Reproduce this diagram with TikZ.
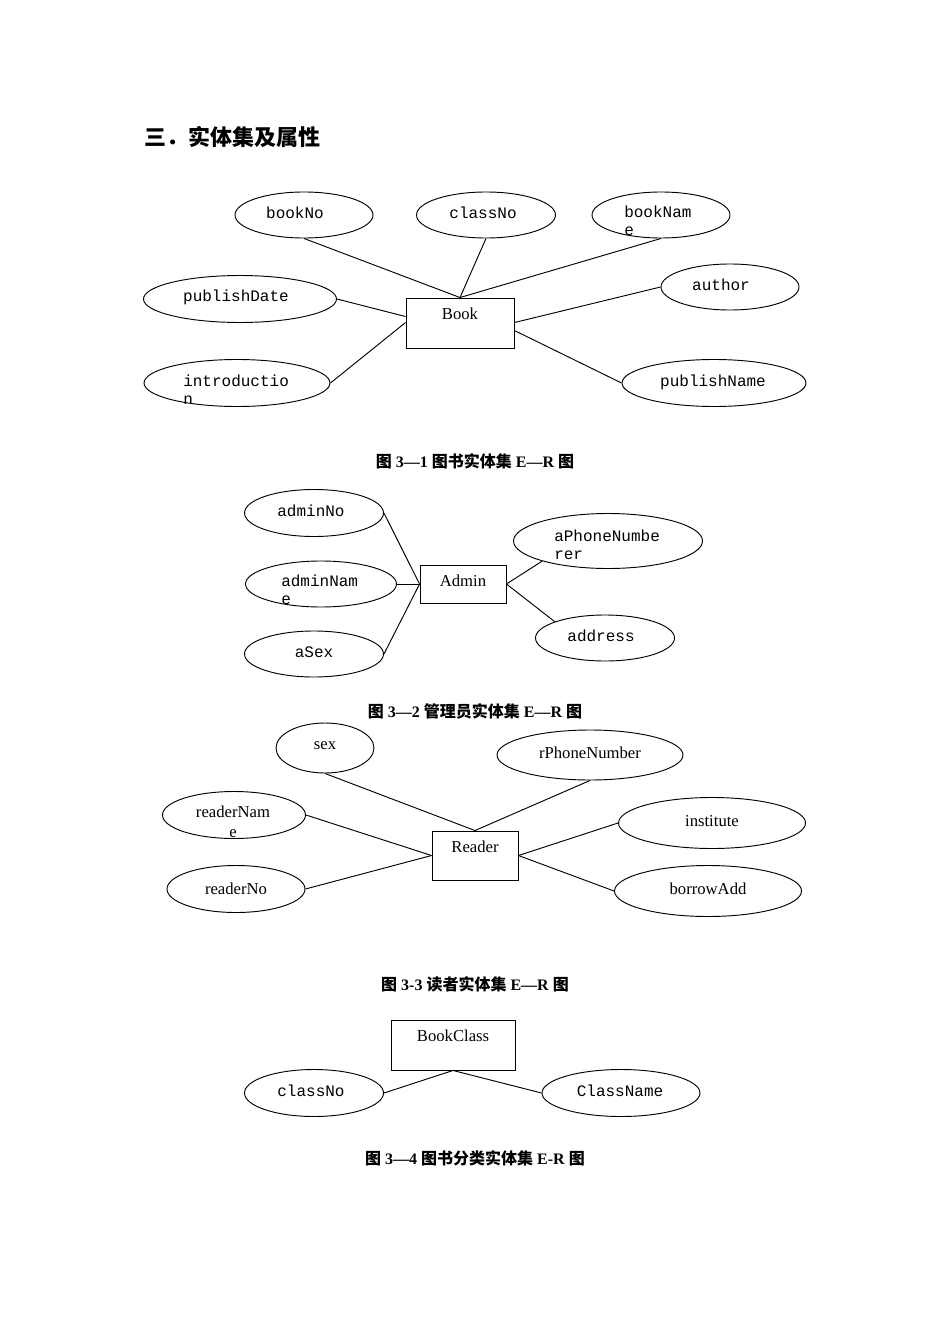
\documentclass[tikz,border=0pt]{standalone}
\usepackage{fontspec}
\setmainfont{Liberation Serif}
\setmonofont{Liberation Mono}
\newfontfamily\cjk{Noto Sans CJK SC}
\newcommand\zh[1]{{\cjk #1}}
\usetikzlibrary{shapes.geometric,calc}
\tikzset{
  attr/.style 2 args={draw, ellipse, inner sep=0pt, line width=0.7pt, minimum width=#1*0.75pt, minimum height=#2*0.75pt},
  ent/.style 2 args={draw, rectangle, inner sep=0pt, line width=0.7pt, minimum width=#1*0.75pt, minimum height=#2*0.75pt},
  mono/.style={font=\ttfamily\fontsize{12}{13.5}\selectfont, inner sep=0pt, align=left},
  ser/.style={font=\fontsize{12.5}{15}\selectfont, inner sep=0pt, align=center},
  capt/.style={font=\bfseries\fontsize{12}{14}\selectfont, inner sep=0pt},
  conn/.style={line width=0.7pt},
}
\begin{document}
\begin{tikzpicture}[x=0.75pt,y=-0.75pt]
\path[use as bounding box] (0,0) rectangle (950,1344);

% title
\node[anchor=west, inner sep=0pt, font=\cjk\bfseries\fontsize{16.5}{20}\selectfont] (title) at (144,137) {三．实体集及属性};

% ---------- Book ----------
\node[ent={108}{50}] (book) at (460,323) {};
\node[ser] (bookT) at (460,314) {Book};
\node[attr={138}{46}] (bookNo) at (304,215) {};
\node[mono] (bookNoT) at (295,213) {bookNo};
\node[attr={139}{46}] (classNo) at (486,215) {};
\node[mono] (classNoT) at (483,213) {classNo};
\node[attr={138}{46}] (bookName) at (661,215) {};
\node[mono, anchor=north west] (bookNameT) at (624,206) {bookNam\\e};
\node[attr={193}{47}] (publishDate) at (240,299) {};
\node[mono] (publishDateT) at (236,297) {publishDate};
\node[attr={138}{46}] (author) at (730,287) {};
\node[mono] (authorT) at (721,285) {author};
\node[attr={186}{47}] (intro) at (237,383) {};
\node[mono, anchor=north west] (introT) at (183,375) {introductio\\n};
\node[attr={184}{47}] (publishName) at (714,383) {};
\node[mono] (publishNameT) at (713,382) {publishName};

\draw[conn] (bookNo.south) -- (book.north);
\draw[conn] (classNo.south) -- (book.north);
\draw[conn] (bookName.south) -- (book.north);
\draw[conn] (publishDate.east) -- ($(book.north west)+(0,19)$);
\draw[conn] (intro.east) -- ($(book.north west)+(0,25)$);
\draw[conn] (author.west) -- ($(book.north east)+(0,25)$);
\draw[conn] (publishName.west) -- ($(book.north east)+(0,33)$);

\node[capt] (cap1) at (475,461) {\zh{图} 3—1 \zh{图书实体集} E—R \zh{图}};

% ---------- Admin ----------
\node[ent={86}{38}] (admin) at (463,584) {};
\node[ser] (adminT) at (463,581) {Admin};
\node[attr={139}{47}] (adminNo) at (314,513) {};
\node[mono] (adminNoT) at (311,511) {adminNo};
\node[attr={151}{46}] (adminName) at (321,584) {};
\node[mono, anchor=north west] (adminNameT) at (281,575) {adminNam\\e};
\node[attr={139}{46}] (aSex) at (314,654) {};
\node[mono] (aSexT) at (314,652) {aSex};
\node[attr={189}{55}] (aPhone) at (608,541) {};
\node[mono, anchor=north west] (aPhoneT) at (554,530) {aPhoneNumbe\\rer};
\node[attr={139}{46}] (address) at (605,638) {};
\node[mono] (addressT) at (601,636) {address};

\draw[conn] (adminNo.east) -- (admin.west);
\draw[conn] (adminName.east) -- (admin.west);
\draw[conn] (aSex.east) -- (admin.west);
\draw[conn] (aPhone.-163) -- (admin.east);
\draw[conn] (address.162) -- (admin.east);

\node[capt] (cap2) at (475,711) {\zh{图} 3—2 \zh{管理员实体集} E—R \zh{图}};

% ---------- Reader ----------
\node[ent={86}{49}] (reader) at (475,855.5) {};
\node[ser] (readerT) at (475,847) {Reader};
\node[attr={98}{50}] (sex) at (325,748) {};
\node[ser] (sexT) at (325,746) {sex};
\node[attr={186}{50}] (rPhone) at (590,755) {};
\node[ser] (rPhoneT) at (590,753) {rPhoneNumber};
\node[attr={143}{47}] (readerName) at (234,815) {};
\node[ser, anchor=north] (readerNameT) at (233,806) {readerNam\\e};
\node[attr={138}{47}] (readerNo) at (236,889) {};
\node[ser] (readerNoT) at (236,889) {readerNo};
\node[attr={187}{51}] (institute) at (712,823) {};
\node[ser] (instituteT) at (712,821) {institute};
\node[attr={187}{51}] (borrowAdd) at (708,891) {};
\node[ser] (borrowAddT) at (708,889) {borrowAdd};

\draw[conn] (sex.south) -- (reader.north);
\draw[conn] (rPhone.south) -- (reader.north);
\draw[conn] (readerName.east) -- (reader.west);
\draw[conn] (readerNo.east) -- (reader.west);
\draw[conn] (institute.west) -- (reader.east);
\draw[conn] (borrowAdd.west) -- (reader.east);

\node[capt] (cap3) at (475,984) {\zh{图} 3-3 \zh{读者实体集} E—R \zh{图}};

% ---------- BookClass ----------
\node[ent={124}{50}] (bookClass) at (453,1045) {};
\node[ser] (bookClassT) at (453,1036) {BookClass};
\node[attr={139}{47}] (classNo2) at (314,1093) {};
\node[mono] (classNo2T) at (311,1091) {classNo};
\node[attr={158}{47}] (className) at (621,1093) {};
\node[mono] (classNameT) at (620,1091) {ClassName};

\draw[conn] (classNo2.east) -- (bookClass.south);
\draw[conn] (className.west) -- (bookClass.south);

\node[capt] (cap4) at (475,1158) {\zh{图} 3—4 \zh{图书分类实体集} E-R \zh{图}};
\end{tikzpicture}
\end{document}
